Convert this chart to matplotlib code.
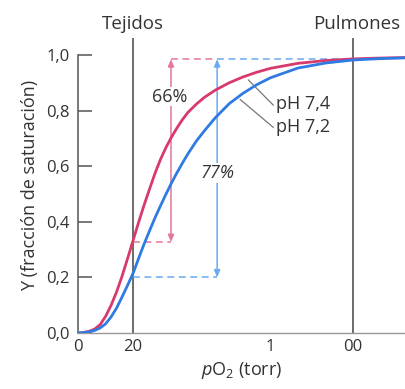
import matplotlib
matplotlib.use('Agg')
import matplotlib.pyplot as plt

matplotlib.rcParams['font.family'] = ['Open Sans', 'DejaVu Sans']
matplotlib.rcParams['font.size'] = 12
matplotlib.rcParams['mathtext.fontset'] = 'custom'
matplotlib.rcParams['mathtext.rm'] = 'Open Sans'
matplotlib.rcParams['mathtext.it'] = 'Open Sans:italic'

# curves
po2 = [0, 2, 4, 6, 8, 10, 12, 14, 16, 18, 20, 22, 24, 26, 28, 30, 32, 34, 36, 38, 40,
       43, 46, 50, 55, 60, 65, 70, 80, 90, 100, 110, 120]
y_ph74 = [0.0, 0.002, 0.006, 0.014, 0.03, 0.06, 0.10, 0.148, 0.205, 0.268, 0.333, 0.398, 0.46, 0.518,
          0.575, 0.625, 0.668, 0.705, 0.738, 0.768, 0.794, 0.823, 0.848, 0.874, 0.90, 0.921, 0.938,
          0.952, 0.97, 0.98, 0.986, 0.989, 0.991]
y_ph72 = [0.0, 0.001, 0.004, 0.009, 0.018, 0.033, 0.058, 0.09, 0.13, 0.172, 0.215, 0.268, 0.32, 0.368,
          0.415, 0.458, 0.50, 0.54, 0.577, 0.612, 0.645, 0.69, 0.728, 0.775, 0.825, 0.862, 0.893,
          0.918, 0.953, 0.971, 0.982, 0.987, 0.99]

x_tejidos = 20
x_pulmones = 100
y_top = 0.985
y_low74 = 0.327
y_low72 = 0.20
x_arrow74 = 33.8
x_arrow72 = 50.6

xticks = [0, 20, 70, 100]
xticklabels = ['0', '20', '1', '00']
yticks = [0.0, 0.2, 0.4, 0.6, 0.8, 1.0]
yticklabels = ['0,0', '0,2', '0,4', '0,6', '0,8', '1,0']

red = '#d83a6c'
blue = '#2f7be3'
red_l = '#e3789a'
blue_l = '#6aaaf0'
txt = '#333333'

fig = plt.figure(figsize=(4.05, 3.89), dpi=100)
ax = fig.add_axes([0.193, 0.144, 0.807, 0.7575])
ax.set_xlim(0, 119)
ax.set_ylim(0, 1.06)

# tissue / lung lines
ax.vlines([x_tejidos, x_pulmones], 0, 1.06, color='#444444', lw=1.1, zorder=1)
ax.text(x_tejidos, 1.08, 'Tejidos', ha='center', va='bottom', fontsize=13.5, color=txt, clip_on=False)
ax.text(x_pulmones + 1.5, 1.08, 'Pulmones', ha='center', va='bottom', fontsize=13.5, color=txt,
        clip_on=False)

# dashed guides
dash = (0, (4.5, 3))
ax.plot([x_tejidos, x_arrow74], [y_low74, y_low74], color=red_l, lw=1.1, ls=dash)
ax.plot([x_tejidos, x_arrow72], [y_low72, y_low72], color=blue_l, lw=1.1, ls=dash)
ax.plot([x_arrow74, x_arrow72], [y_top, y_top], color=red_l, lw=1.1, ls=dash)
ax.plot([x_arrow72, x_pulmones], [y_top, y_top], color=blue_l, lw=1.1, ls=dash)

# double arrows
ax.annotate('', xy=(x_arrow74, y_top), xytext=(x_arrow74, y_low74),
            arrowprops=dict(arrowstyle='<|-|>,head_length=0.35,head_width=0.15', color=red_l, lw=1.1,
                            shrinkA=0, shrinkB=0))
ax.annotate('', xy=(x_arrow72, y_top), xytext=(x_arrow72, y_low72),
            arrowprops=dict(arrowstyle='<|-|>,head_length=0.35,head_width=0.15', color=blue_l, lw=1.1,
                            shrinkA=0, shrinkB=0))
ax.text(x_arrow74 - 0.5, 0.85, '66%', ha='center', va='center', fontsize=13, color=txt, zorder=4,
        bbox=dict(facecolor='white', edgecolor='none', pad=0.5))
ax.text(x_arrow72, 0.575, '77%', ha='center', va='center', fontsize=13, color=txt, style='italic',
        zorder=4, bbox=dict(facecolor='white', edgecolor='none', pad=0.5))

# curves
ax.plot(po2, y_ph74, color=red, lw=2.0, zorder=3, solid_capstyle='round')
ax.plot(po2, y_ph72, color=blue, lw=2.0, zorder=3, solid_capstyle='round')

# curve labels with leaders
ax.plot([62, 71], [0.91, 0.82], color='#777777', lw=0.9, zorder=2)
ax.plot([59, 71], [0.84, 0.74], color='#777777', lw=0.9, zorder=2)
ax.text(72, 0.825, 'pH 7,4', ha='left', va='center', fontsize=13, color=txt)
ax.text(72, 0.74, 'pH 7,2', ha='left', va='center', fontsize=13, color=txt)

# axes styling
for s in ['top', 'right']:
    ax.spines[s].set_visible(False)
ax.spines['left'].set_bounds(0, 1)
ax.spines['left'].set_color('#555555')
ax.spines['left'].set_linewidth(1.1)
ax.spines['bottom'].set_color('#999999')
ax.spines['bottom'].set_linewidth(1.0)

ax.set_yticks(yticks)
ax.set_yticklabels(yticklabels)
ax.tick_params(axis='y', direction='in', length=10, width=1.1, color='#555555', labelcolor=txt,
               labelsize=12, pad=6)
ax.set_xticks(xticks)
ax.set_xticklabels(xticklabels)
ax.tick_params(axis='x', length=0, labelcolor=txt, labelsize=12, pad=4)

ax.set_ylabel('Y (fracción de saturación)', fontsize=13, color=txt, labelpad=5)
ax.set_xlabel(r'$p$O$_2$ (torr)', fontsize=13, color=txt, labelpad=4)

fig.savefig('out.png', dpi=100)
